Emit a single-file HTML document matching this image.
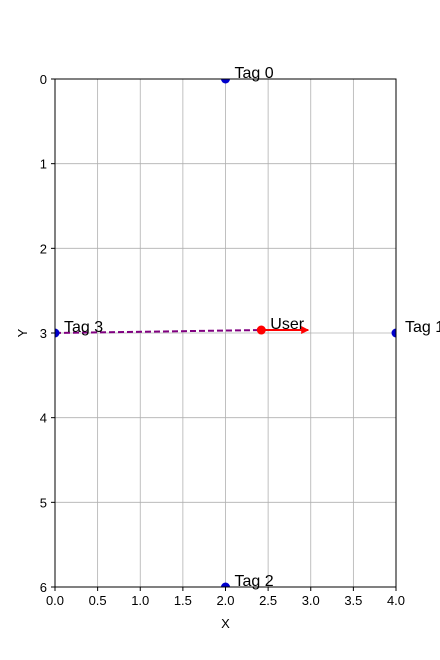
<!DOCTYPE html>
<html><head><meta charset="utf-8"><style>body{margin:0;background:#fff}svg{display:block;font-family:"Liberation Sans","DejaVu Sans",sans-serif}</style></head>
<body>
<svg id="c" width="440" height="660"></svg>
<script>
const xTicks=[0,0.5,1,1.5,2,2.5,3,3.5,4];
const yTicks=[0,1,2,3,4,5,6];
const tagNames=["Tag 0","Tag 1","Tag 2","Tag 3"];
const tagX=[2,4,2,0];
const tagY=[0,3,6,3];
const userPos=[2.42,2.965];
const userHeading=[2.97,2.965];
const X0=55,X1=396,Y0=79,Y1=587;
const sx=v=>X0+v/4*(X1-X0), sy=v=>Y0+v/6*(Y1-Y0);
const svg=document.getElementById('c');const NS='http://www.w3.org/2000/svg';
function mk(t,a,p){const e=document.createElementNS(NS,t);for(const k in a)e.setAttribute(k,a[k]);(p||svg).appendChild(e);return e;}
const defs=mk('defs',{});
const m=mk('marker',{id:'ah',markerWidth:8,markerHeight:8,refX:7,refY:4,orient:'auto',markerUnits:'userSpaceOnUse'},defs);
mk('path',{d:'M0,0 L8,4 L0,8 Z',fill:'red'},m);
const cp=mk('clipPath',{id:'pc'},defs);
mk('rect',{x:X0,y:Y0,width:X1-X0,height:Y1-Y0},cp);
xTicks.forEach(t=>{
 const g=mk('line',{x1:sx(t),x2:sx(t),y1:Y0,y2:Y1,stroke:'#b0b0b0','stroke-width':0.8});
 
 mk('line',{x1:sx(t),x2:sx(t),y1:Y1,y2:Y1+4,stroke:'#000'});
 const l=mk('text',{x:sx(t),y:Y1+18,'text-anchor':'middle','font-size':13});l.textContent=t.toFixed(1);
 
});
yTicks.forEach(t=>{
 const g=mk('line',{x1:X0,x2:X1,y1:sy(t),y2:sy(t),stroke:'#b0b0b0','stroke-width':0.8});
 
 mk('line',{x1:X0-4,x2:X0,y1:sy(t),y2:sy(t),stroke:'#000'});
 const l=mk('text',{x:X0-8,y:sy(t)+5,'text-anchor':'end','font-size':13});l.textContent=t;
 
});
const xl=mk('text',{x:(X0+X1)/2,y:628,'text-anchor':'middle','font-size':13});xl.textContent='X';

const yl=mk('text',{x:27,y:(Y0+Y1)/2,'text-anchor':'middle','font-size':13,transform:`rotate(-90 27 ${(Y0+Y1)/2})`});yl.textContent='Y';

const pg=mk('g',{'clip-path':'url(#pc)'});
const dl=mk('line',{x1:sx(tagX[3]),y1:sy(tagY[3]),x2:sx(userPos[0]),y2:sy(userPos[1]),stroke:'purple','stroke-width':2,'stroke-dasharray':'6,3'},pg);

const ar=mk('line',{x1:sx(userPos[0]),y1:sy(userPos[1]),x2:sx(userHeading[0]),y2:sy(userHeading[1]),stroke:'red','stroke-width':2,'marker-end':'url(#ah)'},pg);

tagNames.forEach((n,i)=>{
 const c=mk('circle',{cx:sx(tagX[i]),cy:sy(tagY[i]),r:4.5,fill:'#0000cc'},pg);
 
});
const u=mk('circle',{cx:sx(userPos[0]),cy:sy(userPos[1]),r:4.5,fill:'red'},pg);

const fr=mk('rect',{x:X0,y:Y0,width:X1-X0,height:Y1-Y0,fill:'none',stroke:'#000','stroke-width':1});

tagNames.forEach((n,i)=>{
 const t=mk('text',{x:sx(tagX[i])+9,y:sy(tagY[i])-1,'font-size':16});t.textContent=n;
 
});
const ut=mk('text',{x:sx(userPos[0])+9,y:sy(userPos[1])-1,'font-size':16});ut.textContent='User';

</script>
</body></html>
